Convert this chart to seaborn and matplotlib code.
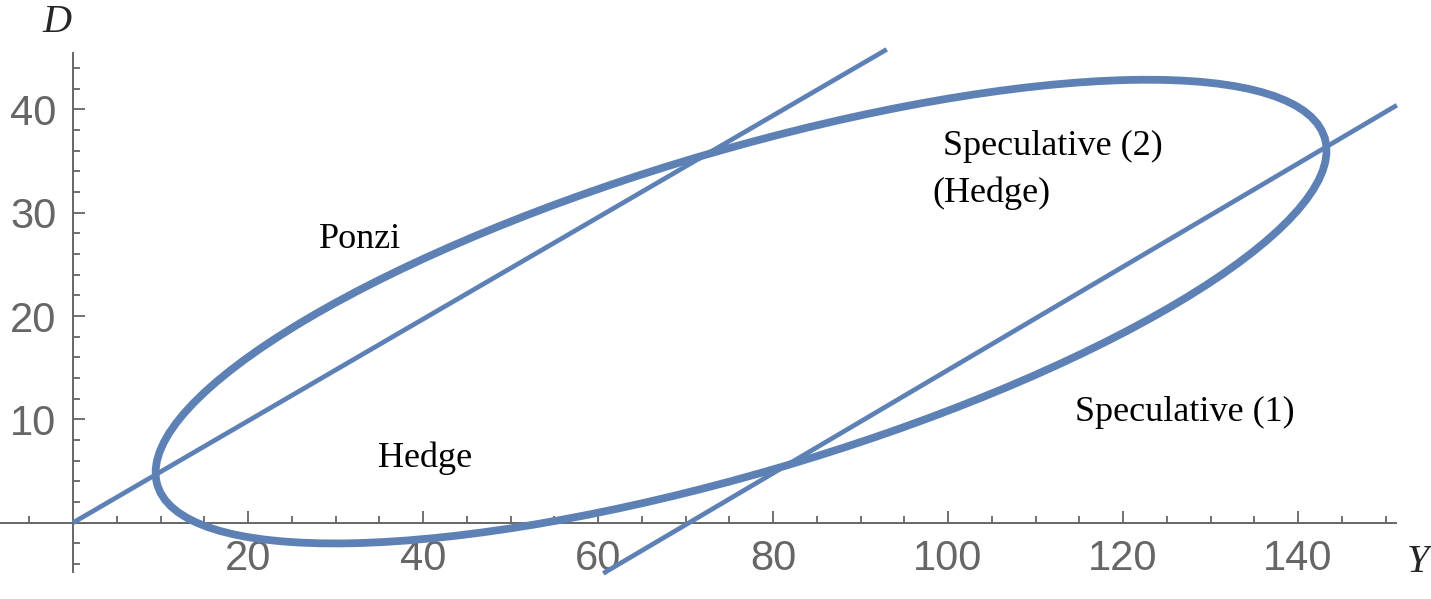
import matplotlib
matplotlib.use('Agg')
import matplotlib.pyplot as plt
from matplotlib.patches import Ellipse
from matplotlib.ticker import FixedLocator
import seaborn as sns

# Data (Y on the x axis, D on the y axis)
ellipse_center = (76.35, 20.43)
ellipse_size = (137.6, 31.4)      # full width, full height along its own axes
ellipse_angle = 13.84             # degrees

line1_y = [0.0, 93.0]
line1_d = [0.0, 45.8]
line2_y = [60.6, 151.3]
line2_d = [-4.9, 40.4]

x_major = [20, 40, 60, 80, 100, 120, 140]
x_minor = [-5, 5, 10, 15, 25, 30, 35, 45, 50, 55, 65, 70, 75, 85, 90, 95,
           105, 110, 115, 125, 130, 135, 145, 150]
y_major = [10, 20, 30, 40]
y_minor = [-4, -2, 2, 4, 6, 8, 12, 14, 16, 18, 22, 24, 26, 28, 32, 34, 36,
           38, 42, 44]

region_labels = ['Ponzi', 'Speculative (2)', '(Hedge)', 'Hedge', 'Speculative (1)']
region_y = [32.8, 112.0, 105.0, 40.2, 127.1]
region_d = [26.55, 35.6, 31.05, 5.35, 9.85]

blue = '#5e81b5'
grey = '#666666'

sns.set_style('white')
plt.rcParams['font.family'] = ['Liberation Sans', 'DejaVu Sans']

fig = plt.figure(figsize=(14.31, 5.99), dpi=100)
ax = fig.add_axes([0, 0, 1, 1])
ax.set_facecolor('white')

# ellipse and the two straight lines
ax.add_patch(Ellipse(ellipse_center, ellipse_size[0], ellipse_size[1],
                     angle=ellipse_angle, fill=False, edgecolor=blue,
                     linewidth=5.6, zorder=3))
sns.lineplot(x=line1_y, y=line1_d, ax=ax, color=blue, linewidth=3.4,
             sort=False, estimator=None, solid_capstyle='butt', zorder=3)
sns.lineplot(x=line2_y, y=line2_d, ax=ax, color=blue, linewidth=3.4,
             sort=False, estimator=None, solid_capstyle='butt', zorder=3)

# axes through the origin, Mathematica style
ax.set_xlim(-8.343, 155.2)
ax.set_ylim(-7.38, 50.58)
for side in ['top', 'right']:
    ax.spines[side].set_visible(False)
ax.spines['left'].set_position(('data', 0))
ax.spines['bottom'].set_position(('data', 0))
ax.spines['bottom'].set_bounds(-8.3, 151.2)
ax.spines['left'].set_bounds(-4.76, 45.5)
for side in ['left', 'bottom']:
    ax.spines[side].set_color(grey)
    ax.spines[side].set_linewidth(1.4)
ax.set_axisbelow(True)

ax.xaxis.set_major_locator(FixedLocator(x_major))
ax.xaxis.set_minor_locator(FixedLocator(x_minor))
ax.yaxis.set_major_locator(FixedLocator(y_major))
ax.yaxis.set_minor_locator(FixedLocator(y_minor))
ax.set_xticklabels([str(v) for v in x_major])
ax.set_yticklabels([str(v) for v in y_major])
ax.tick_params(which='both', direction='in', color=grey, width=1.3,
               bottom=True, left=True, labelcolor=grey, labelsize=30)
ax.tick_params(which='major', length=8.5)
ax.tick_params(which='minor', length=5)
ax.tick_params(axis='x', pad=12)
ax.tick_params(axis='y', pad=12)

# region labels
for lab, xv, yv in zip(region_labels, region_y, region_d):
    ax.text(xv, yv, lab, ha='center', va='baseline', fontsize=26,
            family=['Liberation Serif', 'DejaVu Serif'], color='black')

# axis names
ax.text(-1.85, 48.45, 'D', ha='center', va='center', fontsize=29,
        style='italic', family=['Liberation Serif', 'DejaVu Serif'])
ax.text(153.7, -3.8, 'Y', ha='center', va='center', fontsize=29,
        style='italic', family=['Liberation Serif', 'DejaVu Serif'])

plt.savefig('out.png', dpi=100, facecolor='white')
